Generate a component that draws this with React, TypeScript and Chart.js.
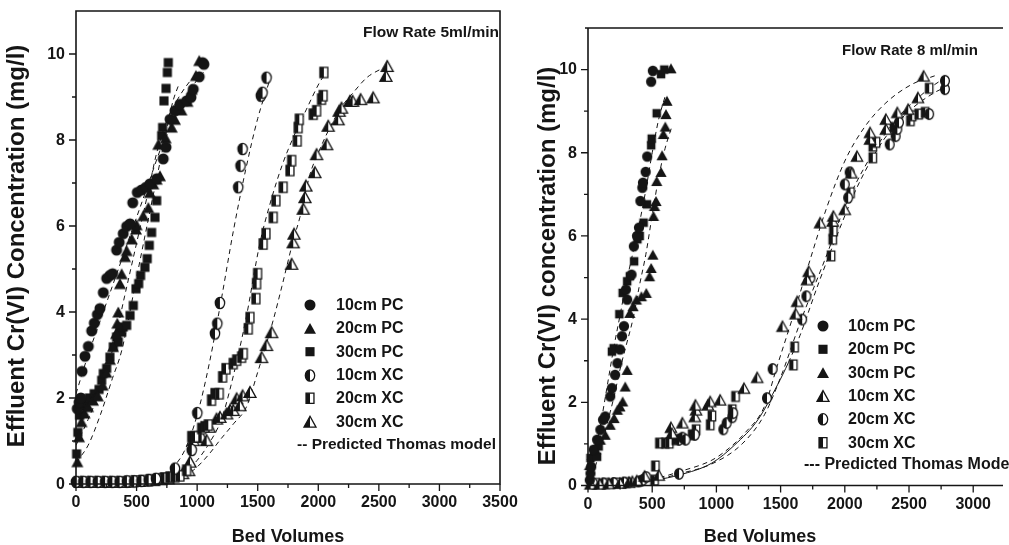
import React, { useEffect, useRef } from 'react';
import { Chart, registerables } from 'chart.js';
Chart.register(...registerables);

type P = [number, number];

// ---------- Left panel: Flow Rate 5 ml/min ----------
const L_X_TICKS = [0, 500, 1000, 1500, 2000, 2500, 3000, 3500];
const L_Y_TICKS = [0, 2, 4, 6, 8, 10];

const L_PC10: P[] = [[10,1.75],[25,1.9],[40,2.0],[50,2.62],[74,2.97],[102,3.2],[129,3.56],[151,3.74],[176,3.94],[198,4.08],[225,4.45],[253,4.78],[280,4.85],[302,4.89],[335,5.44],[357,5.62],[390,5.82],[418,5.99],[446,6.05],[468,6.54],[506,6.78],[542,6.84],[578,6.9],[611,6.98],[666,7.1],[720,7.56],[743,7.83],[776,8.48],[817,8.68],[858,8.83],[913,8.91],[949,8.99],[968,9.18],[1017,9.47],[1045,9.8],[1056,9.76]];
const L_PC20: P[] = [[11,0.52],[25,1.1],[45,1.45],[70,1.65],[100,1.8],[140,1.95],[180,2.05],[220,2.3],[250,2.6],[280,2.9],[305,3.2],[330,3.5],[341,3.74],[349,4.0],[363,4.66],[377,4.89],[404,5.29],[418,5.43],[460,5.7],[495,5.93],[500,6.03],[555,6.24],[597,6.43],[610,6.78],[638,6.98],[666,7.09],[693,7.17],[679,7.9],[740,8.05],[790,8.3],[817,8.48],[870,8.7],[920,8.9],[954,9.18],[990,9.5],[1017,9.85]];
const L_PC30: P[] = [[5,0.7],[15,1.2],[30,1.6],[50,1.8],[75,1.9],[110,2.0],[150,2.1],[190,2.2],[212,2.41],[225,2.57],[253,2.69],[280,2.95],[308,3.19],[335,3.42],[349,3.3],[363,3.57],[377,3.53],[390,3.65],[418,3.69],[446,3.92],[473,4.15],[495,4.54],[517,4.66],[533,4.85],[569,5.04],[588,5.24],[605,5.55],[624,5.85],[652,6.2],[666,6.59],[707,8.1],[715,8.29],[726,8.91],[743,9.2],[754,9.57],[762,9.8]];
const L_XC10: P[] = [[0,0.05],[60,0.05],[120,0.05],[180,0.05],[240,0.05],[300,0.05],[360,0.05],[420,0.06],[480,0.06],[540,0.07],[600,0.09],[660,0.12],[817,0.36],[955,0.79],[1001,1.65],[1147,3.5],[1166,3.73],[1188,4.21],[1339,6.9],[1358,7.4],[1375,7.79],[1526,9.03],[1540,9.1],[1573,9.45]];
const L_XC20: P[] = [[20,0.05],[80,0.05],[140,0.05],[200,0.05],[260,0.05],[320,0.05],[380,0.05],[440,0.06],[500,0.07],[560,0.08],[620,0.1],[680,0.12],[730,0.14],[775,0.16],[817,0.17],[858,0.19],[913,0.32],[955,1.1],[982,1.1],[1037,1.29],[1064,1.33],[1092,1.37],[1119,1.95],[1147,2.1],[1183,2.1],[1210,2.49],[1238,2.68],[1298,2.8],[1326,2.88],[1367,2.95],[1381,3.03],[1422,3.61],[1436,3.87],[1485,4.31],[1491,4.66],[1499,4.89],[1545,5.58],[1568,5.82],[1628,6.2],[1650,6.59],[1710,6.9],[1766,7.29],[1780,7.52],[1826,7.98],[1834,8.29],[1843,8.48],[1958,8.6],[1986,8.68],[2027,8.95],[2040,9.03],[2046,9.57]];
const L_XC30: P[] = [[40,0.05],[100,0.05],[160,0.05],[220,0.05],[280,0.05],[340,0.05],[400,0.05],[460,0.06],[520,0.07],[580,0.08],[640,0.09],[700,0.11],[760,0.13],[880,0.25],[930,0.32],[941,0.52],[968,1.02],[996,1.1],[1037,1.1],[1078,1.02],[1100,1.33],[1160,1.52],[1188,1.56],[1243,1.64],[1271,1.72],[1298,1.72],[1326,1.99],[1353,1.83],[1375,2.06],[1436,2.14],[1532,2.95],[1573,3.23],[1615,3.53],[1780,5.12],[1793,5.62],[1800,5.82],[1876,6.4],[1890,6.67],[1898,6.94],[1972,7.25],[1986,7.67],[2069,7.9],[2082,8.33],[2164,8.48],[2173,8.68],[2192,8.75],[2261,8.91],[2283,8.91],[2349,8.95],[2453,8.99],[2558,9.49],[2569,9.72]];

const L_FIT_PC10: P[] = [[0,2.1],[100,3.0],[200,3.8],[300,4.6],[400,5.4],[500,6.2],[600,7.0],[700,7.8],[800,8.4],[900,8.95],[1000,9.4],[1060,9.6]];
const L_FIT_PC20: P[] = [[0,0.9],[100,1.5],[200,2.2],[300,3.1],[400,4.35],[500,5.6],[600,6.85],[666,7.7],[750,8.45],[850,9.0],[950,9.4],[1000,9.55]];
const L_FIT_PC30: P[] = [[0,0.5],[100,0.9],[200,1.6],[300,2.45],[377,3.1],[500,4.8],[600,6.2],[707,7.67],[760,8.4],[800,8.9],[850,9.3]];
const L_FIT_XC10: P[] = [[0,0],[400,0.01],[600,0.06],[700,0.15],[800,0.38],[900,0.8],[1000,1.6],[1100,2.8],[1200,4.3],[1300,5.9],[1400,7.3],[1500,8.5],[1600,9.4]];
const L_FIT_XC20: P[] = [[0,0],[600,0.04],[800,0.12],[900,0.28],[1000,0.55],[1100,0.95],[1200,1.5],[1271,2.2],[1400,3.8],[1518,5.6],[1600,6.5],[1700,7.4],[1800,8.1],[1900,8.7],[2013,9.35],[2060,9.55]];
const L_FIT_XC30: P[] = [[0,0],[600,0.02],[800,0.1],[968,0.32],[1100,0.7],[1188,1.02],[1300,1.4],[1408,1.8],[1500,2.6],[1627,3.8],[1700,4.6],[1793,5.66],[1848,6.2],[1931,7.2],[2000,7.7],[2096,8.29],[2200,8.8],[2288,9.1],[2400,9.45],[2536,9.68]];

// ---------- Right panel: Flow Rate 8 ml/min ----------
const R_X_TICKS = [0, 500, 1000, 1500, 2000, 2500, 3000];
const R_Y_TICKS = [0, 2, 4, 6, 8, 10];

const R_PC10: P[] = [[14,0.13],[19,0.29],[25,0.45],[44,0.86],[71,1.1],[96,1.34],[117,1.58],[134,1.66],[173,2.14],[186,2.34],[211,2.66],[229,2.94],[249,3.27],[265,3.59],[280,3.83],[295,4.71],[305,4.47],[339,5.07],[357,5.75],[382,6.0],[397,6.2],[408,6.84],[423,7.16],[428,7.28],[449,7.54],[461,7.91],[492,9.71],[505,9.97]];
const R_PC20: P[] = [[19,0.66],[50,0.85],[71,0.69],[83,0.94],[186,3.22],[200,3.3],[244,4.12],[270,4.63],[305,4.91],[326,5.03],[359,5.39],[385,5.92],[403,6.0],[433,6.32],[459,6.76],[492,8.18],[496,8.34],[535,8.95],[569,9.89],[594,10.0]];
const R_PC30: P[] = [[12,0.49],[32,0.73],[58,0.86],[96,1.1],[134,1.22],[173,1.46],[203,1.62],[229,1.82],[249,1.9],[270,2.02],[290,2.38],[305,2.78],[326,4.15],[351,4.31],[377,4.47],[416,4.55],[454,4.63],[479,5.03],[492,5.23],[505,5.55],[510,6.48],[518,6.72],[530,6.84],[535,7.32],[569,7.54],[577,7.94],[587,8.45],[602,8.63],[607,8.93],[615,9.25],[646,10.03]];
const R_XC10: P[] = [[20,0.04],[90,0.04],[160,0.05],[250,0.06],[320,0.08],[346,0.1],[380,0.12],[441,0.23],[551,0.25],[646,1.4],[653,1.26],[735,1.51],[832,1.66],[842,1.82],[837,1.94],[934,1.94],[952,2.02],[1029,2.06],[1215,2.34],[1318,2.6],[1515,3.83],[1617,4.13],[1630,4.43],[1706,4.95],[1719,5.15],[1808,6.32],[1906,6.36],[1911,6.48],[2000,6.64],[2051,7.52],[2095,7.92],[2197,8.33],[2197,8.49],[2320,8.81],[2320,8.57],[2409,8.97],[2494,9.05],[2570,9.33],[2614,9.85]];
const R_XC20: P[] = [[40,0.05],[120,0.05],[200,0.06],[280,0.07],[400,0.1],[425,0.13],[454,0.2],[709,0.28],[709,1.1],[735,1.15],[760,1.1],[832,1.22],[1054,1.35],[1080,1.5],[1123,1.64],[1131,1.74],[1394,2.1],[1438,2.8],[1668,3.99],[1701,4.55],[1732,4.99],[2000,7.24],[2026,6.92],[2038,7.53],[2350,8.2],[2396,8.4],[2409,8.57],[2422,8.73],[2657,8.93],[2780,9.53],[2780,9.73]];
const R_XC30: P[] = [[60,0.05],[140,0.05],[220,0.06],[300,0.07],[518,0.13],[525,0.47],[556,1.02],[602,1.02],[633,1.02],[684,1.1],[811,1.22],[842,1.34],[952,1.46],[965,1.67],[1123,1.82],[1149,2.14],[1599,2.9],[1609,3.33],[1893,5.52],[1906,5.92],[1911,6.12],[2044,7.04],[2218,7.88],[2218,8.16],[2243,8.25],[2383,8.61],[2511,8.77],[2525,8.89],[2575,8.93],[2626,8.97],[2657,9.55]];

const R_FIT_A: P[] = [[0,0.1],[50,0.7],[100,1.5],[150,2.4],[200,3.3],[250,4.1],[300,4.9],[350,5.6],[400,6.3],[450,7.1],[500,8.0],[550,8.8],[600,9.35]];
const R_FIT_B: P[] = [[0,0.05],[50,0.4],[100,0.9],[150,1.5],[200,2.1],[250,2.8],[300,3.4],[350,4.0],[400,4.8],[450,5.55],[500,6.5],[550,7.4],[600,8.1],[650,8.6]];
const R_FIT_X1: P[] = [[0,0.02],[300,0.08],[530,0.17],[709,0.33],[965,0.61],[1100,0.9],[1221,1.26],[1374,1.9],[1476,2.9],[1600,4.1],[1732,5.45],[1850,6.6],[2000,7.8],[2150,8.6],[2320,9.2],[2525,9.65],[2700,9.85]];
const R_FIT_X2: P[] = [[0,0.02],[300,0.06],[530,0.14],[709,0.28],[965,0.52],[1200,1.0],[1374,1.7],[1500,2.6],[1650,3.9],[1860,5.55],[2000,6.7],[2200,7.9],[2400,8.8],[2600,9.4],[2729,9.7],[2790,9.8]];
const R_FIT_X3: P[] = [[530,0.13],[709,0.25],[965,0.54],[1144,0.98],[1323,1.58],[1476,2.42],[1560,2.95],[1650,3.6],[1800,4.9],[1950,6.1],[2100,7.2],[2300,8.3],[2500,9.0],[2700,9.45],[2800,9.6]];

const FONT = '"Liberation Sans", Arial, Helvetica, sans-serif';
const INK = '#151515';

type Marker = 'circle' | 'square' | 'triangle' | 'halfCircle' | 'halfSquare' | 'halfTriangle';

function triPath(ctx: CanvasRenderingContext2D, cx: number, cy: number, w: number, h: number) {
  ctx.beginPath();
  ctx.moveTo(cx, cy - h / 2);
  ctx.lineTo(cx + w / 2, cy + h / 2);
  ctx.lineTo(cx - w / 2, cy + h / 2);
  ctx.closePath();
}

function drawMarker(ctx: CanvasRenderingContext2D, type: Marker, cx: number, cy: number, k: number) {
  ctx.save();
  ctx.fillStyle = INK;
  ctx.strokeStyle = INK;
  ctx.lineWidth = 1.3;
  const half = (path: () => void) => {
    path();
    ctx.fillStyle = '#fff';
    ctx.fill();
    ctx.save();
    ctx.beginPath();
    ctx.rect(cx - 12, cy - 12, 12, 24);
    ctx.clip();
    path();
    ctx.fillStyle = INK;
    ctx.fill();
    ctx.restore();
    path();
    ctx.stroke();
  };
  if (type === 'circle') {
    ctx.beginPath();
    ctx.arc(cx, cy, 4.6 * k, 0, Math.PI * 2);
    ctx.fill();
  } else if (type === 'square') {
    const s = 7.6 * k;
    ctx.fillRect(cx - s / 2, cy - s / 2, s, s);
  } else if (type === 'triangle') {
    triPath(ctx, cx, cy, 10 * k, 9 * k);
    ctx.fill();
  } else if (type === 'halfCircle') {
    const rx = 3.9 * k, ry = 4.7 * k;
    half(() => { ctx.beginPath(); ctx.ellipse(cx, cy, rx, ry, 0, 0, Math.PI * 2); });
  } else if (type === 'halfSquare') {
    const w = 6.6 * k, h = 8.6 * k;
    half(() => { ctx.beginPath(); ctx.rect(cx - w / 2, cy - h / 2, w, h); });
  } else {
    const w = 10 * k, h = 9 * k;
    half(() => triPath(ctx, cx, cy, w, h));
  }
  ctx.restore();
}

function markerImage(type: Marker, k: number): HTMLCanvasElement {
  const c = document.createElement('canvas');
  c.width = 18;
  c.height = 18;
  const ctx = c.getContext('2d')!;
  drawMarker(ctx, type, 9, 9, k);
  return c;
}

interface PanelCfg {
  area: { left: number; top: number; right: number; bottom: number };
  xMax: number;
  yMax: number;
  xTicks: number[];
  yTicks: number[];
  box: boolean;
  k: number;
  series: { data: P[]; marker: Marker }[];
  fits: { data: P[]; solidUntil?: number }[];
  xTitle: { text: string; x: number; y: number };
  yTitle: { text: string; x: number; y: number };
  flow: { text: string; x: number; y: number; align: CanvasTextAlign; size: number };
  legend: { mx: number; tx: number; rows: { marker: Marker; label: string; y: number }[]; model: { text: string; x: number; y: number; size: number } };
}

const LEFT: PanelCfg = {
  area: { left: 76, top: 11, right: 500, bottom: 484 },
  xMax: 3500,
  yMax: 11,
  xTicks: L_X_TICKS,
  yTicks: L_Y_TICKS,
  box: true,
  k: 1.2,
  series: [
    { data: L_PC10, marker: 'circle' },
    { data: L_PC20, marker: 'triangle' },
    { data: L_PC30, marker: 'square' },
    { data: L_XC10, marker: 'halfCircle' },
    { data: L_XC20, marker: 'halfSquare' },
    { data: L_XC30, marker: 'halfTriangle' },
  ],
  fits: [
    { data: L_FIT_PC10 }, { data: L_FIT_PC20 }, { data: L_FIT_PC30 },
    { data: L_FIT_XC10 }, { data: L_FIT_XC20 }, { data: L_FIT_XC30 },
  ],
  xTitle: { text: 'Bed Volumes', x: 288, y: 537 },
  yTitle: { text: 'Effluent Cr(VI) Concentration (mg/l)', x: 17, y: 246 },
  flow: { text: 'Flow Rate 5ml/min', x: 499, y: 33, align: 'right', size: 15.5 },
  legend: {
    mx: 310,
    tx: 336,
    rows: [
      { marker: 'circle', label: '10cm PC', y: 305 },
      { marker: 'triangle', label: '20cm PC', y: 328.3 },
      { marker: 'square', label: '30cm PC', y: 351.7 },
      { marker: 'halfCircle', label: '10cm XC', y: 375.5 },
      { marker: 'halfSquare', label: '20cm XC', y: 398.3 },
      { marker: 'halfTriangle', label: '30cm XC', y: 421.7 },
    ],
    model: { text: '-- Predicted Thomas model', x: 297, y: 445, size: 15.5 },
  },
};

const RIGHT: PanelCfg = {
  area: { left: 588, top: 28, right: 1009, bottom: 485.5 },
  xMax: 3232,
  yMax: 11,
  xTicks: R_X_TICKS,
  yTicks: R_Y_TICKS,
  box: false,
  k: 1.12,
  series: [
    { data: R_PC10, marker: 'circle' },
    { data: R_PC20, marker: 'square' },
    { data: R_PC30, marker: 'triangle' },
    { data: R_XC10, marker: 'halfTriangle' },
    { data: R_XC20, marker: 'halfCircle' },
    { data: R_XC30, marker: 'halfSquare' },
  ],
  fits: [
    { data: R_FIT_A }, { data: R_FIT_B },
    { data: R_FIT_X1 }, { data: R_FIT_X2 }, { data: R_FIT_X3, solidUntil: 1560 },
  ],
  xTitle: { text: 'Bed Volumes', x: 760, y: 537 },
  yTitle: { text: 'Effluent Cr(VI) concentration (mg/l)', x: 548, y: 266 },
  flow: { text: 'Flow Rate 8 ml/min', x: 842, y: 51, align: 'left', size: 15 },
  legend: {
    mx: 823,
    tx: 848,
    rows: [
      { marker: 'circle', label: '10cm PC', y: 326 },
      { marker: 'square', label: '20cm PC', y: 349.3 },
      { marker: 'triangle', label: '30cm PC', y: 372.7 },
      { marker: 'halfTriangle', label: '10cm XC', y: 396 },
      { marker: 'halfCircle', label: '20cm XC', y: 419.3 },
      { marker: 'halfSquare', label: '30cm XC', y: 442.7 },
    ],
    model: { text: '--- Predicted Thomas Model', x: 804, y: 465, size: 16 },
  },
};

function decoPlugin(cfg: PanelCfg) {
  return {
    id: 'deco',
    afterDraw(chart: any) {
      const ctx: CanvasRenderingContext2D = chart.ctx;
      const xs = chart.scales.x;
      const ys = chart.scales.y;
      const a = chart.chartArea;
      ctx.save();
      ctx.strokeStyle = INK;
      ctx.fillStyle = INK;
      ctx.lineWidth = 1.6;
      ctx.beginPath();
      if (cfg.box) {
        ctx.rect(a.left, a.top, a.right - a.left, a.bottom - a.top);
      } else {
        ctx.moveTo(a.left - 3, a.top);
        ctx.lineTo(a.right, a.top);
        ctx.moveTo(a.left, a.top);
        ctx.lineTo(a.left, a.bottom);
        ctx.lineTo(a.right, a.bottom);
      }
      ctx.stroke();

      // ticks
      ctx.lineWidth = 1.3;
      ctx.beginPath();
      const step = cfg.xTicks[1] - cfg.xTicks[0];
      for (let v = 0; v <= cfg.xMax + 0.1; v += step / 2) {
        const px = xs.getPixelForValue(v);
        if (px > a.right + 0.5) break;
        const major = Math.abs(v / step - Math.round(v / step)) < 1e-6;
        ctx.moveTo(px, a.bottom);
        ctx.lineTo(px, a.bottom + (major ? 7 : 4));
      }
      const ystep = cfg.yTicks[1] - cfg.yTicks[0];
      for (let v = 0; v <= cfg.yMax - 0.5; v += ystep / 2) {
        const py = ys.getPixelForValue(v);
        const major = Math.abs(v / ystep - Math.round(v / ystep)) < 1e-6;
        ctx.moveTo(a.left, py);
        ctx.lineTo(a.left - (major ? 7 : 4), py);
      }
      ctx.stroke();

      // tick labels
      ctx.font = `bold 16px ${FONT}`;
      ctx.textAlign = 'center';
      ctx.textBaseline = 'middle';
      for (const v of cfg.xTicks) {
        ctx.fillText(String(v), xs.getPixelForValue(v), a.bottom + 19);
      }
      ctx.textAlign = 'right';
      for (const v of cfg.yTicks) {
        ctx.fillText(String(v), a.left - 11, ys.getPixelForValue(v) + 0.5);
      }

      // axis titles
      ctx.font = `bold 18px ${FONT}`;
      ctx.textAlign = 'center';
      ctx.fillText(cfg.xTitle.text, cfg.xTitle.x, cfg.xTitle.y);
      ctx.save();
      ctx.translate(cfg.yTitle.x, cfg.yTitle.y);
      ctx.rotate(-Math.PI / 2);
      ctx.font = `bold 24px ${FONT}`;
      ctx.fillText(cfg.yTitle.text, 0, 0);
      ctx.restore();

      // flow rate title
      ctx.font = `bold ${cfg.flow.size}px ${FONT}`;
      ctx.textAlign = cfg.flow.align;
      ctx.fillText(cfg.flow.text, cfg.flow.x, cfg.flow.y);

      // legend
      ctx.font = `bold 16px ${FONT}`;
      ctx.textAlign = 'left';
      for (const r of cfg.legend.rows) {
        drawMarker(ctx, r.marker, cfg.legend.mx, r.y, 1.2);
        ctx.fillStyle = INK;
        ctx.fillText(r.label, cfg.legend.tx, r.y + 0.5);
      }
      ctx.font = `bold ${cfg.legend.model.size}px ${FONT}`;
      ctx.fillText(cfg.legend.model.text, cfg.legend.model.x, cfg.legend.model.y);
      ctx.restore();
    },
  };
}

function buildConfig(cfg: PanelCfg): any {
  const pointSets = cfg.series.map((s) => ({
    type: 'scatter',
    data: s.data.map(([x, y]) => ({ x, y })),
    pointStyle: markerImage(s.marker, cfg.k),
    pointRadius: 5,
    showLine: false,
    clip: false,
  }));
  const fitSets = cfg.fits.map((f) => ({
    type: 'scatter',
    data: f.data.map(([x, y]) => ({ x, y })),
    showLine: true,
    pointRadius: 0,
    borderColor: INK,
    borderWidth: 1,
    borderDash: f.solidUntil ? [] : [5, 4],
    cubicInterpolationMode: 'monotone',
    fill: false,
    segment: f.solidUntil
      ? { borderDash: (c: any) => (c.p0.parsed.x >= (f.solidUntil as number) ? [5, 4] : undefined) }
      : undefined,
  }));
  return {
    type: 'scatter',
    data: { datasets: [...pointSets, ...fitSets] },
    options: {
      animation: false,
      responsive: false,
      devicePixelRatio: 1,
      events: [],
      layout: {
        padding: {
          left: cfg.area.left,
          top: cfg.area.top,
          right: 1009 - cfg.area.right,
          bottom: 545 - cfg.area.bottom,
        },
      },
      plugins: { legend: { display: false }, tooltip: { enabled: false }, title: { display: false } },
      scales: {
        x: { type: 'linear', min: 0, max: cfg.xMax, display: false },
        y: { type: 'linear', min: 0, max: cfg.yMax, display: false },
      },
    },
    plugins: [decoPlugin(cfg)],
  };
}

export default function App() {
  const leftRef = useRef<HTMLCanvasElement>(null);
  const rightRef = useRef<HTMLCanvasElement>(null);
  useEffect(() => {
    const c1 = new Chart(leftRef.current as HTMLCanvasElement, buildConfig(LEFT));
    const c2 = new Chart(rightRef.current as HTMLCanvasElement, buildConfig(RIGHT));
    return () => {
      c1.destroy();
      c2.destroy();
    };
  }, []);
  return (
    <div style={{ position: 'fixed', left: 0, top: 0, width: 1009, height: 545, background: '#fff', overflow: 'hidden' }}>
      <canvas ref={leftRef} width={1009} height={545} style={{ position: 'absolute', left: 0, top: 0 }} />
      <canvas ref={rightRef} width={1009} height={545} style={{ position: 'absolute', left: 0, top: 0 }} />
    </div>
  );
}
